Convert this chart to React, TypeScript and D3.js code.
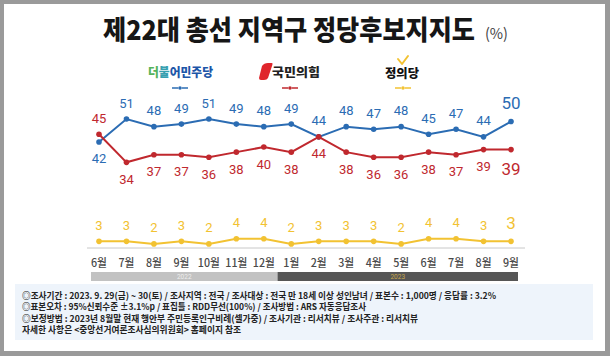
import React from "react";
import * as d3 from "d3";

const months = ["6월", "7월", "8월", "9월", "10월", "11월", "12월", "1월", "2월", "3월", "4월", "5월", "6월", "7월", "8월", "9월"];
const monthKeys = months.map((m, i) => `${i}-${m}`);
const democratic = [42, 51, 48, 49, 51, 49, 48, 49, 44, 48, 47, 48, 45, 47, 44, 50];
const ppp = [45, 34, 37, 37, 36, 38, 40, 38, 44, 38, 36, 36, 38, 37, 39, 39];
const justice = [3, 3, 2, 3, 2, 4, 4, 2, 3, 3, 3, 2, 4, 4, 3, 3];
// label placement: true = above the point
const demAbove = [false, true, true, true, true, true, true, true, true, true, true, true, true, true, true, true];
const pppAbove = [true, false, false, false, false, false, false, false, false, false, false, false, false, false, false, false];
const years = [
  { label: "2022", from: 0, to: 7 },
  { label: "2023", from: 7, to: 16 },
];
const notes = [
  "◎조사기간 : 2023. 9. 29(금) ~ 30(토) / 조사지역 : 전국 / 조사대상 : 전국 만 18세 이상 성인남녀 / 표본수 : 1,000명 / 응답률 : 3.2%",
  "◎표본오차 : 95%신뢰수준 ±3.1%p  / 표집틀 : RDD무선(100%) / 조사방법 : ARS 자동응답조사",
  "◎보정방법 : 2023년 8월말 현재 행안부 주민등록인구비례(셀가중) / 조사기관 : 리서치뷰 / 조사주관 : 리서치뷰",
  "자세한 사항은 <중앙선거여론조사심의위원회> 홈페이지 참조",
];
const noteLengths = [474, 344, 396, 219];

const BLUE = "#2b6cb3";
const RED = "#c0282e";
const YELLOW = "#f2c232";
const KR = "'Noto Sans CJK KR', 'Noto Sans', sans-serif";
const NUM = "Roboto, 'Noto Sans', sans-serif";

export default function App() {
  const x = d3.scalePoint<string>().domain(monthKeys).range([99, 511]);
  const y = d3.scaleLinear().domain([0, 51]).range([249, 119]);
  const step = x.step();
  const line = d3
    .line<number>()
    .x((_, i) => x(monthKeys[i]) as number)
    .y((d) => y(d));

  const series = [
    { data: democratic, color: BLUE, above: demAbove },
    { data: ppp, color: RED, above: pppAbove },
    { data: justice, color: YELLOW, above: justice.map(() => true) },
  ];

  const last = months.length - 1;

  return (
    <svg width={610} height={356} style={{ position: "absolute", left: 0, top: 0 }}>
      <rect x={0} y={0} width={610} height={356} fill="#9a9a9a" />
      <rect x={4} y={4} width={601} height={347} fill="#ffffff" />

      {/* title */}
      <g transform="translate(103,40) scale(1,1.17)">
        <text x={0} y={0} fontFamily={KR} fontWeight={900} fontSize={23} fill="#161616" textLength={372} lengthAdjust="spacingAndGlyphs">
          제22대 총선 지역구 정당후보지지도
        </text>
      </g>
      <text x={485} y={39} fontFamily={KR} fontWeight={400} fontSize={15} fill="#444" textLength={23} lengthAdjust="spacingAndGlyphs">
        (%)
      </text>

      {/* legend */}
      <g fontFamily={KR} fontWeight={900} fontSize={12.5}>
        <text x={148} y={77} textLength={65} lengthAdjust="spacingAndGlyphs">
          <tspan fill="#55b35a">더</tspan>
          <tspan fill="#36a0b0">불</tspan>
          <tspan fill="#1d56a8">어민주당</tspan>
        </text>
        <path d="M262,66 Q264,63 268,63 L272,63 Q273,63 272,66 L268,78 Q267,80 264,80 L261,80 Q259,80 259,78 Z" fill="#e0262c" />
        <text x={272} y={77} fill="#222" textLength={48} lengthAdjust="spacingAndGlyphs">국민의힘</text>
        <path d="M398,59 L402,64 L408,56" fill="none" stroke={YELLOW} strokeWidth={2} strokeLinecap="round" strokeLinejoin="round" />
        <text x={385} y={78} fill="#111" textLength={34} lengthAdjust="spacingAndGlyphs">정의당</text>
      </g>
      {[
        { cx: 180, color: BLUE },
        { cx: 290, color: RED },
        { cx: 403, color: YELLOW },
      ].map((m, i) => (
        <g key={i}>
          <line x1={m.cx - 8} x2={m.cx - 2} y1={88} y2={88} stroke={m.color} strokeWidth={1.5} />
          <line x1={m.cx + 2} x2={m.cx + 8} y1={88} y2={88} stroke={m.color} strokeWidth={1.5} />
          <circle cx={m.cx} cy={88} r={1.8} fill={m.color} />
        </g>
      ))}

      {/* baseline */}
      <line x1={87} x2={525} y1={y(0) - 1} y2={y(0) - 1} stroke="#c8c8c8" strokeWidth={1} />

      {/* series */}
      {series.map((s, si) => (
        <g key={si}>
          <path d={line(s.data) ?? ""} fill="none" stroke={s.color} strokeWidth={2} />
          {s.data.map((v, i) => (
            <circle key={i} cx={x(monthKeys[i]) as number} cy={y(v)} r={2.8} fill={s.color} />
          ))}
          {s.data.map((v, i) => {
            const isLast = i === last;
            const off = isLast ? 18.5 : 16;
            const cy = s.above[i] ? y(v) - off : y(v) + off + 1;
            return (
              <text
                key={`t${i}`}
                x={x(monthKeys[i]) as number}
                y={cy}
                textAnchor="middle"
                dominantBaseline="central"
                fontFamily={NUM}
                fontSize={isLast ? 17 : 13}
                fill={s.color}
              >
                {v}
              </text>
            );
          })}
        </g>
      ))}

      {/* month labels */}
      {months.map((m, i) => (
        <text
          key={i}
          x={x(monthKeys[i]) as number}
          y={262}
          textAnchor="middle"
          dominantBaseline="central"
          fontFamily={KR}
          fontWeight={500}
          fontSize={11.5}
          fill="#4a4a4a"
          textLength={m.length === 2 ? 16 : 22}
          lengthAdjust="spacingAndGlyphs"
        >
          {m}
        </text>
      ))}

      {/* year bars */}
      {years.map((yr, i) => {
        const x0 = i === 0 ? 91 : (x(monthKeys[yr.from]) as number) - step / 2;
        const x1 = i === years.length - 1 ? 518 : (x(monthKeys[yr.to - 1]) as number) + step / 2;
        return (
          <g key={yr.label}>
            <rect x={x0} y={272} width={x1 - x0} height={9} fill={i === 0 ? "#c2c2c2" : "#565656"} />
            <text
              x={(x0 + x1) / 2}
              y={277}
              textAnchor="middle"
              dominantBaseline="central"
              fontFamily={NUM}
              fontSize={6.5}
              fill={i === 0 ? "#eeeeee" : "#c9a94c"}
            >
              {yr.label}
            </text>
          </g>
        );
      })}

      {/* notes */}
      <rect x={15} y={284} width={578} height={56} fill="#eef4fb" />
      {notes.map((n, i) => (
        <text
          key={i}
          x={22}
          y={295 + i * 11.5}
          dominantBaseline="central"
          fontFamily={KR}
          fontWeight={700}
          fontSize={9}
          fill="#222"
          textLength={noteLengths[i]}
          lengthAdjust="spacingAndGlyphs"
        >
          {n}
        </text>
      ))}
    </svg>
  );
}
